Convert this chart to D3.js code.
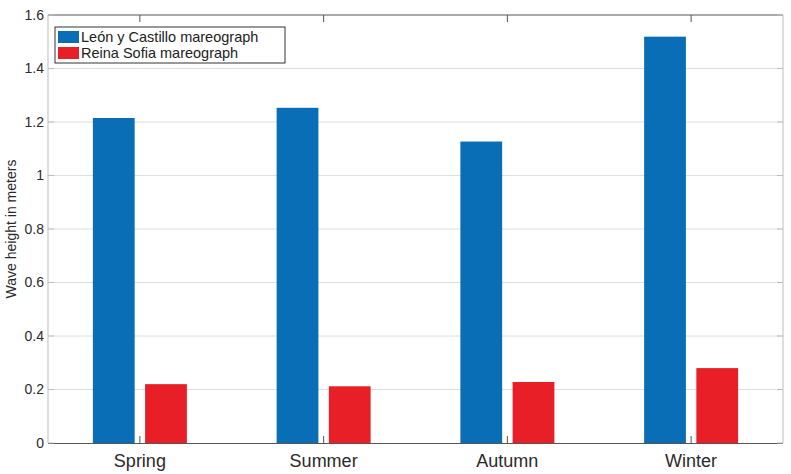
<!DOCTYPE html>
<html>
<head>
<meta charset="utf-8">
<script src="https://cdn.jsdelivr.net/npm/d3@7"></script>
<style>
  body { margin: 0; background: #fff; }
  text { font-family: "Liberation Sans", Arial, sans-serif; }
</style>
</head>
<body>
<svg id="chart" width="791" height="474"></svg>
<script>
"use strict";

// data
const seasons = ["Spring", "Summer", "Autumn", "Winter"];
const leonCastillo = [1.215, 1.253, 1.127, 1.519];
const reinaSofia = [0.220, 0.212, 0.228, 0.280];
const seriesNames = ["León y Castillo mareograph", "Reina Sofia mareograph"];
const yTicks = [0, 0.2, 0.4, 0.6, 0.8, 1, 1.2, 1.4, 1.6];

const colors = ["#0a6eb7", "#e81f27"];

const margin = { left: 48, right: 8, top: 15, bottom: 31 };
const W = 791, H = 474;

const svg = d3.select("#chart");

const x = d3.scaleBand()
  .domain(seasons)
  .range([margin.left, W - margin.right]);

const y = d3.scaleLinear()
  .domain([0, 1.6])
  .range([H - margin.bottom, margin.top]);

const inner = d3.scaleBand()
  .domain([0, 1])
  .range([x.bandwidth() / 2 - 47, x.bandwidth() / 2 + 47])
  .paddingInner(0.2);

// grid lines
svg.append("g")
  .selectAll("line")
  .data(yTicks.slice(1, -1))
  .enter()
  .append("line")
  .attr("x1", margin.left)
  .attr("x2", W - margin.right)
  .attr("y1", d => y(d))
  .attr("y2", d => y(d))
  .style("stroke", "#dedede")
  .style("stroke-width", 1);

// bars
const rows = seasons.map((s, i) => ({ season: s, vals: [leonCastillo[i], reinaSofia[i]] }));

const grp = svg.append("g")
  .selectAll("g")
  .data(rows)
  .enter()
  .append("g")
  .attr("transform", d => `translate(${x(d.season)},0)`);

grp.selectAll("rect")
  .data(d => d.vals.map((v, k) => ({ k: k, v: v })))
  .enter()
  .append("rect")
  .attr("x", d => inner(d.k))
  .attr("width", inner.bandwidth())
  .attr("y", d => y(d.v))
  .attr("height", d => y(0) - y(d.v))
  .style("fill", d => colors[d.k]);

// frame: top and bottom dark, left and right light
const x0 = margin.left, x1 = W - margin.right, y0 = y(0), y1 = y(1.6);
svg.append("line").attr("x1", x0).attr("x2", x1).attr("y1", y0 + 0.5).attr("y2", y0 + 0.5)
  .style("stroke", "#555").style("stroke-width", 1.2);
svg.append("line").attr("x1", x0).attr("x2", x1).attr("y1", y1).attr("y2", y1)
  .style("stroke", "#555").style("stroke-width", 1.2);
svg.append("line").attr("x1", x0).attr("x2", x0).attr("y1", y0).attr("y2", y1)
  .style("stroke", "#bdbdbd").style("stroke-width", 1);
svg.append("line").attr("x1", x1).attr("x2", x1).attr("y1", y0).attr("y2", y1)
  .style("stroke", "#bdbdbd").style("stroke-width", 1);

// x ticks (inside, top and bottom)
const xTickG = svg.append("g");
seasons.forEach(s => {
  const cx = x(s) + x.bandwidth() / 2;
  xTickG.append("line").attr("x1", cx).attr("x2", cx).attr("y1", y0).attr("y2", y0 - 7)
    .style("stroke", "#555").style("stroke-width", 1);
  xTickG.append("line").attr("x1", cx).attr("x2", cx).attr("y1", y1).attr("y2", y1 + 7)
    .style("stroke", "#555").style("stroke-width", 1);
  xTickG.append("text")
    .attr("x", cx)
    .attr("y", y0 + 24)
    .attr("text-anchor", "middle")
    .attr("font-size", 18)
    .attr("fill", "#2a2a2a")
    .text(s);
});

// y ticks
const yTickG = svg.append("g");
yTicks.forEach(t => {
  yTickG.append("line").attr("x1", x0).attr("x2", x0 + 6).attr("y1", y(t)).attr("y2", y(t))
    .style("stroke", "#bdbdbd");
  yTickG.append("line").attr("x1", x1).attr("x2", x1 - 6).attr("y1", y(t)).attr("y2", y(t))
    .style("stroke", "#bdbdbd");
  yTickG.append("text")
    .attr("x", x0 - 4)
    .attr("y", y(t))
    .attr("dy", "0.35em")
    .attr("text-anchor", "end")
    .attr("font-size", 14)
    .attr("fill", "#2a2a2a")
    .text(d3.format("~g")(t));
});

// y label
svg.append("text")
  .attr("transform", `translate(16,${(y0 + y1) / 2}) rotate(-90)`)
  .attr("text-anchor", "middle")
  .attr("font-size", 14)
  .attr("fill", "#2a2a2a")
  .text("Wave height in meters");

// legend
const lg = svg.append("g").attr("transform", "translate(55,27)");
lg.append("rect")
  .attr("width", 230)
  .attr("height", 36)
  .style("fill", "#fff")
  .style("stroke", "#333")
  .style("stroke-width", 1);

const li = lg.selectAll("g.item")
  .data(seriesNames)
  .enter()
  .append("g")
  .attr("class", "item")
  .attr("transform", (d, i) => `translate(3,${10 + i * 16})`);

li.append("rect")
  .attr("x", 0)
  .attr("y", -6)
  .attr("width", 21)
  .attr("height", 12)
  .style("fill", (d, i) => colors[i]);

li.append("text")
  .attr("x", 23)
  .attr("dy", "0.35em")
  .attr("font-size", 14.5)
  .attr("fill", "#222")
  .text(d => d);
</script>
</body>
</html>
